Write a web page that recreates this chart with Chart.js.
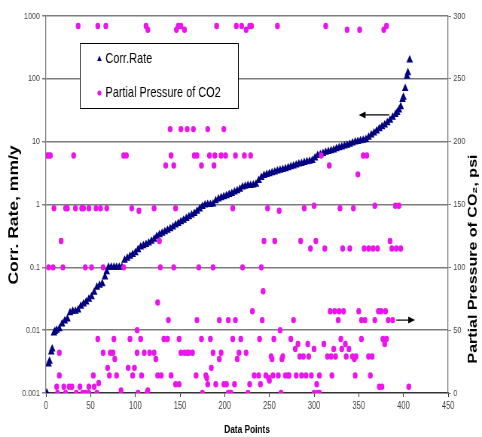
<!DOCTYPE html>
<html>
<head>
<meta charset="utf-8">
<script src="https://cdn.jsdelivr.net/npm/chart.js@4.4.0/dist/chart.umd.min.js"></script>
<style>
html, body { margin: 0; padding: 0; background: #fff; overflow: hidden; }
/* the original picture is squeezed sideways, so draw wide and squeeze */
#wrap { width: 640px; height: 437px; transform: scaleX(0.753125); transform-origin: 0 0; }
</style>
</head>
<body>
<div id="wrap"><canvas id="myChart"></canvas></div>
<script>
// corrosion rate, mm/y, against data point number
const corrX = [1, 3, 4, 6, 7, 9, 10, 12, 15, 18, 21, 24, 27, 30, 33, 36, 39, 42, 45, 48,
  51, 54, 57, 60, 63, 66, 68, 70, 73, 76, 79, 82, 85, 88, 91, 94, 97, 100, 103, 106,
  109, 112, 115, 118, 121, 124, 127, 130, 133, 136, 139, 142, 145, 148, 151, 154, 157, 160, 163, 166,
  169, 172, 175, 178, 181, 184, 187, 190, 193, 196, 199, 202, 205, 208, 211, 214, 217, 220, 223, 226,
  229, 232, 235, 238, 241, 244, 247, 250, 253, 256, 259, 262, 265, 268, 271, 274, 277, 280, 283, 286,
  289, 292, 295, 298, 301, 304, 307, 310, 313, 316, 319, 322, 325, 328, 331, 334, 337, 340, 343, 346,
  349, 352, 355, 358, 361, 364, 367, 370, 373, 376, 379, 382, 385, 388, 391, 393, 395, 397, 399, 400,
  402, 404, 405, 407];
const corrRate = [0.001, 0.0029, 0.0032, 0.0045, 0.005, 0.009, 0.0095, 0.01, 0.0105, 0.0125, 0.014, 0.015, 0.019, 0.02, 0.02, 0.021, 0.024, 0.026, 0.028, 0.031,
  0.034, 0.04, 0.048, 0.052, 0.055, 0.07, 0.085, 0.1, 0.1, 0.1, 0.1, 0.1, 0.1, 0.13, 0.14, 0.15, 0.16, 0.17, 0.19, 0.21,
  0.22, 0.23, 0.245, 0.26, 0.28, 0.31, 0.33, 0.35, 0.37, 0.39, 0.41, 0.44, 0.47, 0.5, 0.53, 0.56, 0.6, 0.64, 0.68, 0.72,
  0.78, 0.85, 0.93, 0.98, 1.0, 1.0, 1.02, 1.15, 1.22, 1.28, 1.33, 1.38, 1.44, 1.5, 1.58, 1.65, 1.75, 1.9, 1.95, 2.0,
  2.0, 2.05, 2.1, 2.4, 2.7, 2.9, 3.0, 3.1, 3.2, 3.3, 3.4, 3.5, 3.6, 3.7, 3.85, 4.0, 4.1, 4.25, 4.4, 4.5,
  4.65, 4.8, 4.9, 5.0, 5.5, 6.0, 6.2, 6.5, 6.8, 7.0, 7.2, 7.4, 7.7, 8.0, 8.2, 8.5, 8.8, 9.1, 9.5, 9.9,
  10.1, 10.3, 10.5, 10.8, 11.8, 12.8, 13.8, 14.8, 16, 17.2, 18.5, 20, 22, 24.5, 27, 29, 32, 36, 47, 51,
  70, 110, 125, 200];

// partial pressure of CO2, psi: each level with the data points that sit on it
const psiLevels = [292, 289, 210, 189, 181, 174, 149, 147, 145, 121, 115, 100, 81, 72, 65, 58, 50, 43, 39, 35,
  32, 29, 27, 20, 14, 12, 10, 8, 7, 5, 2, 0];
const psiLevelX = [
  [36, 58, 67, 112, 148, 151, 191, 213, 219, 228, 230, 259, 313, 381],
  [114, 146, 155, 224, 337, 351, 378],
  [139, 151, 158, 165, 181, 199],
  [1, 3, 5, 31, 87, 90, 140, 166, 169, 183, 189, 196, 201, 212, 222, 229, 308, 355, 359],
  [134, 143, 174, 188, 317],
  [349],
  [300, 368, 391, 395],
  [9, 22, 24, 33, 40, 42, 48, 56, 61, 68, 96, 121, 145, 209, 248, 289, 329, 344],
  [104, 261],
  [17, 127, 244, 256, 285, 302, 385],
  [296, 312, 332, 340, 356, 361, 366, 371, 387, 392, 397],
  [3, 8, 19, 44, 51, 64, 87, 128, 143, 171, 187, 220, 241],
  [243],
  [125],
  [231, 318, 323, 328, 333, 350, 372, 375, 380],
  [137, 169, 194, 204, 212, 242, 277, 327, 353, 357, 368, 383, 388],
  [102, 262],
  [58, 76, 94, 106, 132, 136, 149, 174, 184, 209, 218, 239, 255, 274, 330, 353, 377, 381],
  [282, 293, 311, 335, 379],
  [279, 300, 322, 331, 339],
  [15, 64, 72, 75, 102, 110, 116, 121, 151, 155, 158, 160, 164, 187, 196, 216, 224],
  [252, 265, 284, 288, 294, 315, 319, 324, 336, 343, 347, 361, 365],
  [77, 123, 194, 214, 253, 264, 345],
  [69, 92, 99, 185],
  [15, 53, 71, 79, 97, 107, 125, 129, 140, 168, 179, 233, 238, 246, 254, 260, 268, 271, 272, 280,
   286, 291, 297, 306, 320, 346, 363],
  [180, 249],
  [250],
  [59],
  [145, 149, 181, 190, 199, 202, 211, 228, 240, 303],
  [12, 20, 26, 29, 38, 48, 54, 373, 376, 406],
  [84, 114],
  [13, 22, 34, 41, 44, 48, 57, 103, 113, 175, 204, 206, 207, 226, 263, 300, 304, 306]
];

const xTickStep = 50;
const yTicks = [0.001, 0.01, 0.1, 1, 10, 100, 1000];
const yTickLabels = ['0.001', '0.01', '0.1', '1', '10', '100', '1000'];
const legendLabels = ['Corr.Rate', 'Partial Pressure of CO2'];
const leftTitle = 'Corr. Rate, mm/y';
const rightTitle = 'Partial Pressure of CO\u2082, psi';

// arrows: [x from, x to, value] on the axis they point at
const arrowLeft = [384, 350, 26.6];
const arrowRight = [392, 413, 58];

const navy = '#000080';
const pink = '#ec14ec';
const gridGray = '#7c7c7c';
const fontFamily = '"Liberation Sans", Arial, sans-serif';

var corrPoints = corrX.map(function(x, i) { return {x: x, y: corrRate[i]}; });
var pressPoints = [];
psiLevels.forEach(function(psi, i) {
	psiLevelX[i].forEach(function(x) { pressPoints.push({x: x, y: psi}); });
});

var drawArrow = function(ctx, x0, x1, y) {
	var dir = x1 > x0 ? 1 : -1;
	ctx.strokeStyle = '#000';
	ctx.fillStyle = '#000';
	ctx.lineWidth = 1.2;
	ctx.beginPath();
	ctx.moveTo(x0, y);
	ctx.lineTo(x1 - dir * 6, y);
	ctx.stroke();
	ctx.beginPath();
	ctx.moveTo(x1, y);
	ctx.lineTo(x1 - dir * 9, y - 3.5);
	ctx.lineTo(x1 - dir * 9, y + 3.5);
	ctx.closePath();
	ctx.fill();
}

var drawUpText = function(ctx, text, x, y) {
	ctx.save();
	ctx.translate(x, y);
	ctx.rotate(-Math.PI / 2);
	ctx.fillText(text, 0, 0);
	ctx.restore();
}

var overlay = {
	id: 'overlay',
	afterDraw: function(chart) {
		var ctx = chart.ctx;
		var sx = chart.scales.x, sy = chart.scales.y, sy1 = chart.scales.y1;
		ctx.save();

		// axis titles read from bottom to top on both sides
		ctx.fillStyle = '#000';
		ctx.textAlign = 'center';
		ctx.textBaseline = 'middle';
		ctx.font = 'bold 17.5px ' + fontFamily;
		drawUpText(ctx, leftTitle, 19, 215);
		ctx.font = 'bold 16px ' + fontFamily;
		drawUpText(ctx, rightTitle, 629, 259);

		drawArrow(ctx, sx.getPixelForValue(arrowLeft[0]), sx.getPixelForValue(arrowLeft[1]), sy.getPixelForValue(arrowLeft[2]));
		drawArrow(ctx, sx.getPixelForValue(arrowRight[0]), sx.getPixelForValue(arrowRight[1]), sy1.getPixelForValue(arrowRight[2]));

		// legend box
		ctx.fillStyle = '#fff';
		ctx.fillRect(106, 43, 210, 65);
		ctx.strokeStyle = '#000';
		ctx.lineWidth = 1;
		ctx.strokeRect(106.5, 43.5, 210, 65);

		ctx.fillStyle = navy;
		ctx.beginPath();
		ctx.moveTo(132, 55.5);
		ctx.lineTo(135, 61);
		ctx.lineTo(129, 61);
		ctx.closePath();
		ctx.fill();

		ctx.fillStyle = pink;
		ctx.beginPath();
		ctx.arc(132, 93, 2.6, 0, Math.PI * 2);
		ctx.fill();

		ctx.fillStyle = '#000';
		ctx.textAlign = 'left';
		ctx.font = '14.5px ' + fontFamily;
		ctx.fillText(legendLabels[0], 140, 59);
		ctx.fillText(legendLabels[1], 140, 93);

		ctx.restore();
	}
};

Chart.defaults.font.family = fontFamily;

var ctx = document.getElementById('myChart');
var myChart = new Chart(ctx, {
	type: 'scatter',
	data: {
		datasets: [{
			label: legendLabels[0],
			data: corrPoints,
			yAxisID: 'y',
			pointStyle: 'triangle',
			pointRadius: 5,
			backgroundColor: navy,
			borderColor: navy,
			borderWidth: 0,
			order: 1
		}, {
			label: legendLabels[1],
			data: pressPoints,
			yAxisID: 'y1',
			pointStyle: 'circle',
			pointRadius: 3.2,
			backgroundColor: pink,
			borderColor: pink,
			borderWidth: 0,
			order: 0
		}]
	},
	options: {
		responsive: true,
		maintainAspectRatio: false,
		animation: false,
		devicePixelRatio: 1,
		layout: { padding: { top: 16, left: 0, right: 0, bottom: 0 } },
		plugins: {
			legend: { display: false },
			tooltip: { enabled: false }
		},
		scales: {
			x: {
				type: 'linear',
				position: 'bottom',
				min: 0,
				max: 450,
				ticks: { stepSize: xTickStep, color: '#444', font: { size: 10 }, padding: 3 },
				grid: { drawOnChartArea: false, drawTicks: true, tickLength: 4, color: '#333' },
				border: { color: '#333', width: 1.3 },
				title: { display: true, text: 'Data Points', color: '#000', font: { size: 11, weight: 'bold' }, padding: { top: 0, bottom: 0 } },
				afterFit: function(scale) { scale.height = 44; }
			},
			y: {
				type: 'logarithmic',
				position: 'left',
				min: 0.001,
				max: 1000,
				afterBuildTicks: function(scale) {
					scale.ticks = yTicks.map(function(v) { return {value: v}; });
				},
				ticks: {
					color: '#444',
					font: { size: 9.5 },
					padding: 3,
					callback: function(value, index) { return yTickLabels[index]; }
				},
				grid: { color: gridGray, lineWidth: 1.5, tickLength: 5 },
				border: { color: gridGray, width: 1.3 },
				afterFit: function(scale) { scale.width = 61; }
			},
			y1: {
				type: 'linear',
				position: 'right',
				min: 0,
				max: 300,
				ticks: { stepSize: 50, color: '#444', font: { size: 9.5 }, padding: 3 },
				grid: { drawOnChartArea: false, drawTicks: true, tickLength: 4, color: gridGray },
				border: { color: gridGray, width: 1.3 },
				afterFit: function(scale) { scale.width = 45; }
			}
		}
	},
	plugins: [overlay]
});
</script>
</body>
</html>
